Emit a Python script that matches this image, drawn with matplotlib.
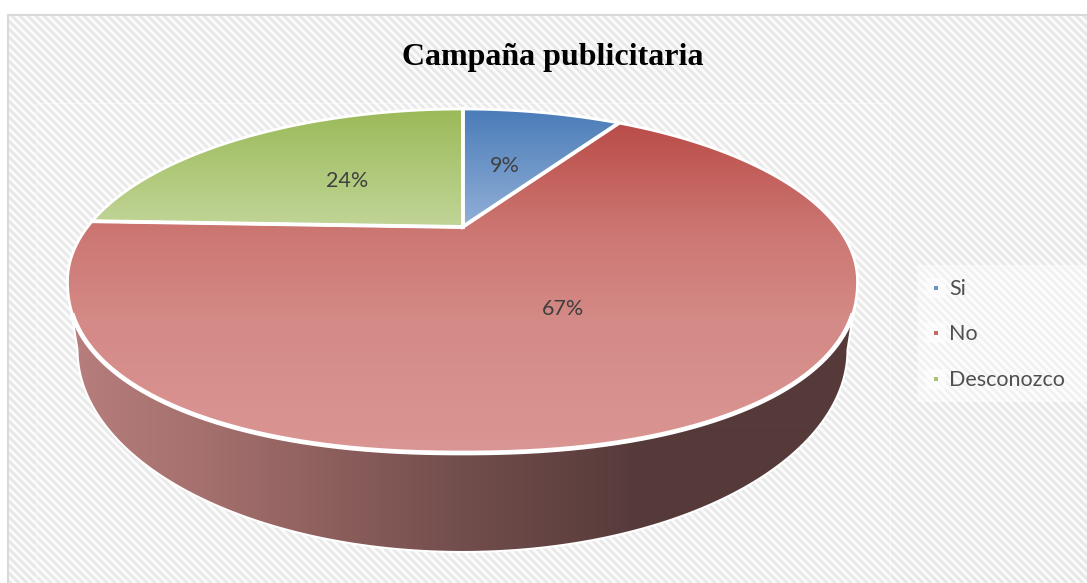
import numpy as np
import matplotlib
matplotlib.use('Agg')
import matplotlib.pyplot as plt
from matplotlib.patches import Polygon, Rectangle

title = 'Campaña publicitaria'
labels = ['Si', 'No', 'Desconozco']
shares = [8.85, 66.75, 24.4]
colors = ['#4F81BD', '#C0504D', '#9BBB59']

W, H = 1087, 583
# top face: ellipse on screen, with the pie centre pulled up by the perspective
cx, cy, rx, ry = 462.5, 281, 395, 172
persp = 54 / 172

def project(angle):
    # clockwise degrees from 12 o'clock on the flat disc -> pixel coords
    u = np.sin(np.radians(angle))
    v = np.cos(np.radians(angle))
    d = 1 + persp * v
    x = cx + rx * np.sqrt(1 - persp ** 2) * u / d
    y = cy - ry * (v + persp) / d
    # front half of the rim is a bit fuller than a true ellipse
    X = np.clip(np.abs(x - cx) / rx, 0, 1)
    y = np.where(y > cy, cy + ry * (1 - X ** 2.2) ** (1 / 2.2), y)
    return x, y

def shade(ax, patch, stops, axis='y'):
    # gradient fill: stops are (pixel position, rgb)
    pos = [s[0] for s in stops]
    rgb = np.array([s[1] for s in stops], dtype=float) / 255
    if axis == 'y':
        c = np.arange(H) + 0.5
        img = np.stack([np.interp(c, pos, rgb[:, i]) for i in range(3)], axis=1)[:, None, :]
    else:
        c = np.arange(W) + 0.5
        img = np.stack([np.interp(c, pos, rgb[:, i]) for i in range(3)], axis=1)[None, :, :]
    ax.add_patch(patch)
    im = ax.imshow(img, extent=(0, W, H, 0), aspect='auto', zorder=patch.get_zorder(),
                   interpolation='bilinear')
    im.set_clip_path(patch)

fig = plt.figure(figsize=(W / 100, H / 100), dpi=100)
ax = fig.add_axes([0, 0, 1, 1])
ax.axis('off')

# striped chart background
yy, xx = np.mgrid[0:H, 0:W]
bg = 0.945 + 0.05 * np.cos(2 * np.pi * (xx - yy) / 8)
ax.imshow(bg, cmap='gray', vmin=0, vmax=1, extent=(0, W, H, 0), aspect='auto',
          interpolation='bilinear', zorder=0)
ax.add_patch(Rectangle((0, 0), W, 14, fc='white', ec='none', zorder=1))
ax.add_patch(Rectangle((0, 0), 7, H, fc='white', ec='none', zorder=1))
ax.plot([8, 8], [H, 15], color='#d9d9d9', lw=1.5, zorder=2)
ax.plot([8, W], [15, 15], color='#d9d9d9', lw=1.5, zorder=2)

# faint plot area and legend boxes
ax.add_patch(Rectangle((36, 103), 854, 490, fc=(1, 1, 1, 0.12), ec=(1, 1, 1, 0.5), lw=0.8, zorder=1))
ax.add_patch(Rectangle((917, 265), 170, 137, fc=(1, 1, 1, 0.45), ec='none', zorder=1))

# side wall of the red slice
t = np.linspace(0, np.pi, 200)
bottom = np.column_stack([462.5 + 385 * np.cos(t), 350 + 202 * np.sin(t)])
a = np.linspace(90, 270, 400)
top_lower = np.column_stack(project(a))
top_lower = top_lower[top_lower[:, 1] >= 315]
side = np.vstack([[[853, 315]], bottom, [[72, 315]], top_lower[::-1]])
side_patch = Polygon(side, closed=True, fc='none', ec='none', zorder=3)
shade(ax, side_patch, [(75, (182, 126, 124)), (220, (162, 110, 108)), (360, (135, 91, 89)),
                       (460, (114, 78, 76)), (640, (86, 58, 58)), (860, (86, 58, 58))], axis='x')
ax.add_patch(Polygon(side, closed=True, fc='none', ec='white', lw=1.5, zorder=3.5))

# top face, one slice per share
grads = [
    [(109, (74, 124, 184)), (227, (146, 176, 216))],
    [(123, (186, 76, 72)), (230, (204, 118, 114)), (320, (212, 138, 134)), (453, (218, 150, 148))],
    [(109, (155, 186, 88)), (227, (193, 213, 151))],
]
apex = (cx, cy - ry * persp)
start = 0
for share, grad in zip(shares, grads):
    end = start + share * 3.6
    x, y = project(np.linspace(start, end, 300))
    pts = np.vstack([[apex], np.column_stack([x, y])])
    shade(ax, Polygon(pts, closed=True, fc='none', ec='none', zorder=4), grad)
    ax.add_patch(Polygon(pts, closed=True, fc='none', ec='white', lw=2.0, joinstyle='miter', zorder=5))
    ax.plot([apex[0], x[0]], [apex[1], y[0]], color='white', lw=2.8, zorder=5)
    start = end

# thicker white rim along the front edge
ax.plot(top_lower[:, 0], top_lower[:, 1], color='white', lw=3.4, zorder=5)

# percent labels
font = ['Lato', 'DejaVu Sans']
ax.text(505, 166, f'{shares[0]:.0f}%', family=font, fontsize=15.5, color='#404040', ha='center', va='center', zorder=6)
ax.text(563, 309, f'{shares[1]:.0f}%', family=font, fontsize=15.5, color='#404040', ha='center', va='center', zorder=6)
ax.text(347, 181, f'{shares[2]:.0f}%', family=font, fontsize=15.5, color='#404040', ha='center', va='center', zorder=6)

ax.text(553, 58, title, family='Liberation Serif', weight='bold', fontsize=23, color='black',
        ha='center', va='center', zorder=6)

# legend
for ypos, lab, col in zip([288, 333, 379], labels, colors):
    ax.add_patch(Rectangle((926, ypos - 10), 20, 20, fc=(1, 1, 1, 0.6), ec='none', zorder=2))
    ax.add_patch(Rectangle((934, ypos - 2), 4, 4, fc=col, ec='none', alpha=0.85, zorder=3))
    ax.text(949, ypos + 1, lab, family=font, fontsize=15.5, color='#505050', ha='left', va='center', zorder=6)

ax.set_xlim(0, W)
ax.set_ylim(H, 0)
fig.savefig('out.png', dpi=100)
